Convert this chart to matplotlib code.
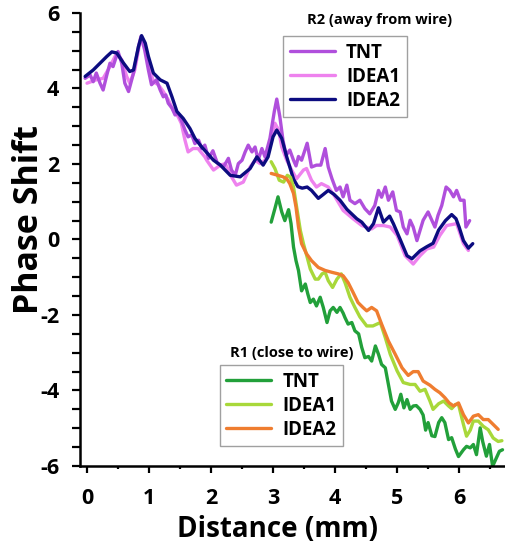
import matplotlib
matplotlib.use('Agg')
import matplotlib.pyplot as plt
from matplotlib.ticker import MultipleLocator

# ---- R2 (away from wire) ----
r2_tnt_x = [-0.03, 0.05, 0.10, 0.15, 0.21, 0.26, 0.32, 0.37, 0.42, 0.50, 0.56, 0.61, 0.67, 0.75,
            0.83, 0.87, 0.93, 0.99, 1.04, 1.12, 1.18, 1.23, 1.27, 1.31, 1.37, 1.42, 1.47, 1.52,
            1.58, 1.63, 1.69, 1.74, 1.80, 1.85, 1.90, 1.96, 2.03, 2.10, 2.20, 2.28, 2.33, 2.39,
            2.44, 2.50, 2.55, 2.60, 2.66, 2.71, 2.76, 2.82, 2.87, 2.95, 3.02, 3.06, 3.11, 3.16,
            3.21, 3.27, 3.33, 3.37, 3.41, 3.46, 3.55, 3.62, 3.70, 3.77, 3.84, 3.89, 3.95, 4.02,
            4.08, 4.13, 4.19, 4.24, 4.32, 4.40, 4.48, 4.56, 4.64, 4.70, 4.75, 4.81, 4.86, 4.93,
            4.99, 5.05, 5.10, 5.16, 5.21, 5.26, 5.32, 5.37, 5.42, 5.50, 5.56, 5.61, 5.66, 5.72,
            5.79, 5.85, 5.91, 5.96, 6.02, 6.08, 6.11, 6.17]
r2_tnt_y = [4.27, 4.36, 4.18, 4.41, 4.14, 3.96, 4.36, 4.67, 4.58, 4.98, 4.67, 4.14, 3.92, 4.41,
            5.11, 5.38, 5.02, 4.49, 4.10, 4.23, 3.96, 3.78, 3.83, 3.61, 3.48, 3.30, 3.35, 3.16,
            2.90, 2.72, 2.77, 2.54, 2.63, 2.41, 2.50, 2.15, 2.35, 2.03, 1.92, 2.15, 1.84, 1.70,
            2.01, 2.10, 2.32, 2.50, 2.32, 2.45, 2.10, 2.41, 2.19, 2.68, 3.39, 3.72, 3.25, 2.63,
            2.23, 2.37, 2.10, 1.95, 2.20, 2.10, 2.55, 1.92, 1.97, 1.97, 2.41, 1.92, 1.61, 1.30,
            1.39, 1.13, 1.44, 1.04, 0.95, 1.04, 0.82, 0.68, 0.90, 1.30, 1.12, 1.39, 1.04, 1.26,
            0.77, 0.73, 0.33, 0.15, 0.51, 0.33, -0.03, 0.24, 0.51, 0.73, 0.51, 0.33, 0.64, 0.90,
            1.39, 1.30, 1.13, 1.30, 1.04, 1.04, 0.33, 0.50]

r2_idea1_x = [0.00, 0.15, 0.26, 0.37, 0.48, 0.56, 0.64, 0.69, 0.77, 0.84, 0.88, 0.94, 1.02, 1.07,
              1.15, 1.23, 1.31, 1.39, 1.47, 1.52, 1.58, 1.63, 1.71, 1.79, 1.90, 1.93, 2.04, 2.15,
              2.23, 2.33, 2.41, 2.52, 2.63, 2.71, 2.79, 2.87, 2.95, 3.03, 3.09, 3.14, 3.22, 3.30,
              3.38, 3.49, 3.54, 3.62, 3.70, 3.78, 3.89, 4.00, 4.13, 4.29, 4.43, 4.59, 4.67, 4.78,
              4.89, 5.00, 5.13, 5.26, 5.37, 5.48, 5.59, 5.69, 5.80, 5.96, 6.07, 6.15]
r2_idea1_y = [4.14, 4.23, 4.27, 4.58, 4.94, 4.76, 4.32, 4.14, 4.49, 5.11, 5.34, 5.11, 4.49, 4.18,
              4.10, 3.92, 3.70, 3.43, 3.25, 3.08, 2.63, 2.32, 2.41, 2.41, 2.19, 2.10, 1.84, 1.97,
              2.01, 1.66, 1.44, 1.52, 1.92, 2.10, 2.01, 2.10, 2.45, 3.08, 2.90, 2.45, 2.10, 1.84,
              1.61, 1.84, 1.88, 1.57, 1.39, 1.48, 1.39, 1.13, 0.77, 0.55, 0.37, 0.28, 0.37, 0.37,
              0.33, 0.11, -0.43, -0.65, -0.43, -0.25, -0.20, 0.11, 0.37, 0.42, -0.11, -0.29]

r2_idea2_x = [-0.03, 0.10, 0.21, 0.32, 0.40, 0.48, 0.59, 0.69, 0.75, 0.83, 0.88, 0.94, 0.99, 1.07,
              1.18, 1.29, 1.37, 1.45, 1.55, 1.66, 1.74, 1.85, 1.96, 2.04, 2.15, 2.31, 2.47, 2.63,
              2.74, 2.84, 2.92, 3.00, 3.06, 3.14, 3.22, 3.33, 3.40, 3.47, 3.55, 3.62, 3.73, 3.80,
              3.89, 3.98, 4.08, 4.19, 4.35, 4.43, 4.54, 4.62, 4.70, 4.78, 4.88, 4.94, 5.05, 5.16,
              5.24, 5.37, 5.48, 5.58, 5.67, 5.78, 5.88, 5.95, 6.00, 6.07, 6.15, 6.22]
r2_idea2_y = [4.32, 4.49, 4.67, 4.85, 4.97, 4.94, 4.67, 4.45, 4.49, 5.11, 5.40, 5.20, 4.85, 4.41,
              4.23, 4.14, 3.78, 3.39, 3.21, 2.94, 2.68, 2.45, 2.25, 2.10, 1.97, 1.70, 1.66, 1.88,
              2.19, 1.97, 2.19, 2.72, 2.90, 2.68, 2.19, 1.60, 1.40, 1.36, 1.39, 1.30, 1.09, 1.18,
              1.30, 1.20, 1.04, 0.80, 0.55, 0.46, 0.24, 0.42, 0.84, 0.46, 0.62, 0.42, 0.00, -0.43,
              -0.51, -0.30, -0.19, -0.10, 0.25, 0.50, 0.66, 0.55, 0.33, -0.03, -0.23, -0.11]

# ---- R1 (close to wire) ----
r1_tnt_x = [2.97, 3.03, 3.08, 3.14, 3.19, 3.25, 3.29, 3.33, 3.37, 3.41, 3.46, 3.52, 3.56, 3.60,
            3.65, 3.70, 3.76, 3.81, 3.87, 3.92, 3.97, 4.03, 4.08, 4.13, 4.16, 4.21, 4.27, 4.32,
            4.38, 4.43, 4.48, 4.54, 4.59, 4.65, 4.70, 4.75, 4.81, 4.86, 4.91, 4.97, 5.02, 5.06,
            5.11, 5.16, 5.21, 5.26, 5.31, 5.37, 5.42, 5.46, 5.50, 5.56, 5.61, 5.67, 5.72, 5.77,
            5.83, 5.88, 5.94, 5.99, 6.07, 6.12, 6.18, 6.23, 6.28, 6.34, 6.38, 6.44, 6.49, 6.54,
            6.60, 6.65, 6.70]
r1_tnt_y = [0.46, 0.82, 1.13, 0.73, 0.50, 0.79, 0.42, -0.20, -0.56, -0.82, -1.36, -1.18, -1.44, -1.67,
            -1.58, -1.76, -1.53, -1.80, -2.20, -1.89, -1.80, -1.93, -1.80, -1.95, -2.07, -2.24, -2.20, -2.42,
            -2.50, -2.86, -3.13, -3.10, -3.22, -2.82, -3.04, -3.31, -3.40, -3.84, -4.28, -4.50, -4.32, -4.10,
            -4.46, -4.24, -4.50, -4.41, -4.40, -4.50, -4.65, -5.05, -4.85, -5.20, -5.22, -4.85, -4.72, -4.85,
            -5.30, -5.25, -5.55, -5.75, -5.57, -5.48, -5.52, -5.43, -5.70, -4.99, -5.35, -5.74, -5.43, -6.01,
            -5.79, -5.61, -5.57]

r1_idea1_x = [2.97, 3.03, 3.10, 3.17, 3.23, 3.28, 3.33, 3.38, 3.44, 3.49, 3.55, 3.60, 3.68, 3.73,
              3.79, 3.84, 3.89, 3.96, 4.03, 4.10, 4.16, 4.24, 4.32, 4.40, 4.51, 4.61, 4.73, 4.81,
              4.89, 5.00, 5.10, 5.21, 5.29, 5.37, 5.45, 5.53, 5.58, 5.67, 5.75, 5.83, 5.88, 5.94,
              5.99, 6.07, 6.12, 6.18, 6.23, 6.31, 6.39, 6.47, 6.55, 6.63, 6.69]
r1_idea1_y = [2.06, 1.88, 1.57, 1.52, 1.70, 1.65, 1.39, 0.86, 0.24, -0.11, -0.47, -0.78, -1.05, -1.05,
              -0.91, -0.87, -1.09, -1.27, -1.05, -0.91, -1.14, -1.53, -1.80, -2.05, -2.29, -2.29, -2.20, -2.60,
              -3.04, -3.48, -3.79, -3.84, -3.84, -4.02, -3.97, -4.28, -4.50, -4.35, -4.28, -4.41, -4.48, -4.37,
              -4.37, -4.90, -5.21, -5.05, -4.81, -4.81, -4.95, -5.04, -5.26, -5.35, -5.33]

r1_idea2_x = [2.97, 3.08, 3.16, 3.22, 3.27, 3.33, 3.37, 3.41, 3.46, 3.54, 3.62, 3.73, 3.84, 3.95,
              4.05, 4.13, 4.21, 4.29, 4.37, 4.45, 4.51, 4.59, 4.67, 4.75, 4.86, 4.97, 5.08, 5.18,
              5.26, 5.34, 5.42, 5.53, 5.61, 5.69, 5.77, 5.84, 5.91, 5.99, 6.07, 6.15, 6.23, 6.31,
              6.39, 6.47, 6.55, 6.63]
r1_idea2_y = [1.75, 1.70, 1.66, 1.61, 1.48, 1.22, 0.86, 0.33, -0.11, -0.38, -0.56, -0.74, -0.82, -0.87,
              -0.91, -0.96, -1.14, -1.40, -1.67, -1.80, -1.89, -1.80, -1.89, -2.24, -2.69, -3.04, -3.40, -3.60,
              -3.50, -3.50, -3.75, -3.86, -3.97, -4.06, -4.19, -4.33, -4.41, -4.33, -4.64, -4.86, -4.68, -4.64,
              -4.77, -4.77, -4.90, -5.03]

plt.rcParams['font.family'] = ['Open Sans', 'DejaVu Sans']
plt.rcParams['font.weight'] = 'bold'
plt.rcParams['axes.unicode_minus'] = False

fig = plt.figure(figsize=(5.05, 5.44), dpi=100)
ax = fig.add_axes([0.1584, 0.1434, 0.8416, 0.8327])

lw = 2.4
kw = dict(lw=lw, solid_capstyle='round', solid_joinstyle='round')
l_idea1, = ax.plot(r2_idea1_x, r2_idea1_y, color='#ee82ee', label='IDEA1', **kw)
l_tnt, = ax.plot(r2_tnt_x, r2_tnt_y, color='#b04fdc', label='TNT', **kw)
l_idea2, = ax.plot(r2_idea2_x, r2_idea2_y, color='#0c0c80', label='IDEA2', **kw)

g_tnt, = ax.plot(r1_tnt_x, r1_tnt_y, color='#22a03a', label='TNT', **kw)
g_idea1, = ax.plot(r1_idea1_x, r1_idea1_y, color='#a8d83a', label='IDEA1', **kw)
g_idea2, = ax.plot(r1_idea2_x, r1_idea2_y, color='#ef7d30', label='IDEA2', **kw)

ax.set_xlim(-0.113, 6.74)
ax.set_ylim(-6, 6)

for s in ['top', 'right']:
    ax.spines[s].set_visible(False)
for s in ['left', 'bottom']:
    ax.spines[s].set_linewidth(1.8)

ax.xaxis.set_major_locator(MultipleLocator(1))
ax.xaxis.set_minor_locator(MultipleLocator(0.5))
ax.yaxis.set_major_locator(MultipleLocator(2))
ax.yaxis.set_minor_locator(MultipleLocator(0.5))
ax.tick_params(axis='x', which='major', direction='out', length=5, width=1.6, pad=11, labelsize=15.5)
ax.tick_params(axis='x', which='minor', direction='out', length=2.5, width=1.6)
ax.tick_params(axis='y', which='major', direction='out', length=6, width=1.6, pad=9, labelsize=15.5)
ax.tick_params(axis='y', which='minor', direction='out', length=6, width=1.6)

ax.set_xlabel('Distance (mm)', fontsize=20, fontweight='bold')
ax.set_ylabel('Phase Shift', fontsize=24.5, fontweight='bold')
ax.xaxis.set_label_coords(0.464, -0.108)
ax.yaxis.set_label_coords(-0.08, 0.545)

leg_kw = dict(fontsize=13.5, frameon=True, fancybox=False, edgecolor='#888888',
              handlelength=2.4, labelspacing=0.22, borderpad=0.35, handletextpad=0.6,
              borderaxespad=0)
leg2 = ax.legend([l_tnt, l_idea1, l_idea2], ['TNT', 'IDEA1', 'IDEA2'],
                 loc='upper left', bbox_to_anchor=(0.478, 0.949), **leg_kw)
leg2.get_frame().set_linewidth(1.0)
ax.add_artist(leg2)
leg1 = ax.legend([g_tnt, g_idea1, g_idea2], ['TNT', 'IDEA1', 'IDEA2'],
                 loc='upper left', bbox_to_anchor=(0.329, 0.223), **leg_kw)
leg1.get_frame().set_linewidth(1.0)

ax.text(0.705, 0.985, 'R2 (away from wire)', transform=ax.transAxes, fontsize=10.5,
        fontweight='bold', ha='center', va='center')
ax.text(0.499, 0.25, 'R1 (close to wire)', transform=ax.transAxes, fontsize=10.5,
        fontweight='bold', ha='center', va='center')

fig.savefig('out.png', dpi=100)
